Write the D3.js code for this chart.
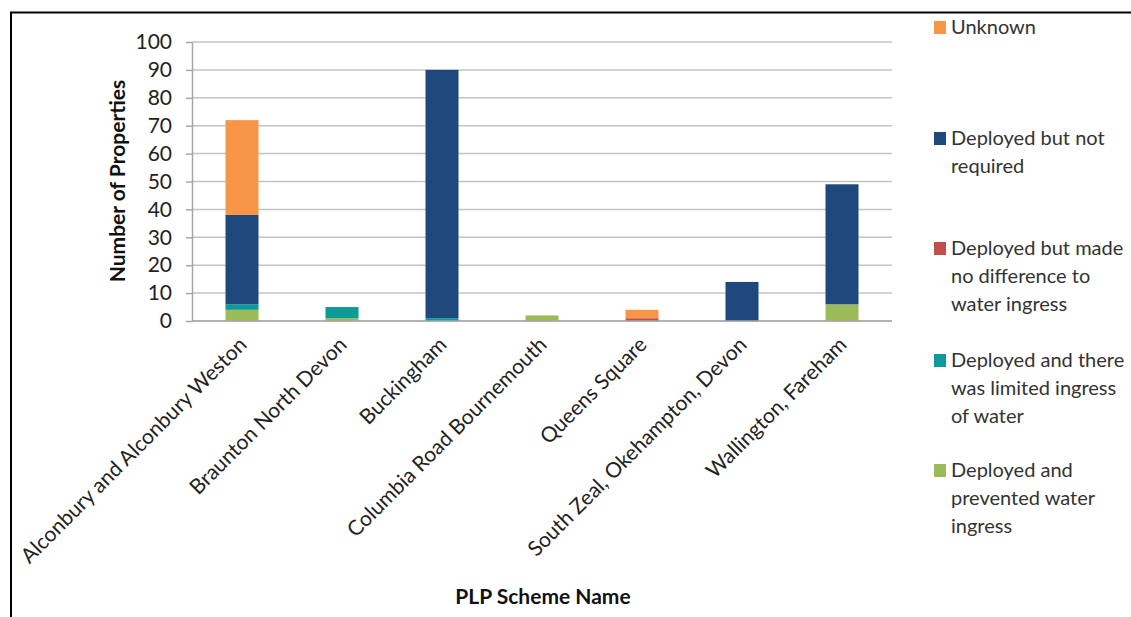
<!DOCTYPE html>
<html>
<head>
<meta charset="utf-8">
<script src="https://cdn.jsdelivr.net/npm/d3@7"></script>
<style>
  body { margin: 0; background: #fff; }
  svg { display: block; font-family: Lato, "Open Sans", sans-serif; }
</style>
</head>
<body>
<svg id="chart" width="1131" height="617"></svg>
<script>
// PLP scheme outcomes: number of properties by scheme and outcome
const schemes = [
  "Alconbury and Alconbury Weston",
  "Braunton North Devon",
  "Buckingham",
  "Columbia Road Bournemouth",
  "Queens Square",
  "South Zeal, Okehampton, Devon",
  "Wallington, Fareham"
];
const preventedIngress   = [4, 1, 0, 2, 0, 0, 6];
const limitedIngress     = [2, 4, 1, 0, 0, 0, 0];
const noDifference       = [0, 0, 0, 0, 1, 0, 0];
const notRequired        = [32, 0, 89, 0, 0, 14, 43];
const unknownOutcome     = [34, 0, 0, 0, 3, 0, 0];
const yTicks = [0, 10, 20, 30, 40, 50, 60, 70, 80, 90, 100];

// stacking order bottom to top
const seriesDefs = [
  { key: "prevented", values: preventedIngress, color: "#9BBB59",
    label: ["Deployed and", "prevented water", "ingress"] },
  { key: "limited", values: limitedIngress, color: "#0F9A9A",
    label: ["Deployed and there", "was limited ingress", "of water"] },
  { key: "nodiff", values: noDifference, color: "#C0504D",
    label: ["Deployed but made", "no difference to", "water ingress"] },
  { key: "notreq", values: notRequired, color: "#1F497D",
    label: ["Deployed but not", "required"] },
  { key: "unknown", values: unknownOutcome, color: "#F79646",
    label: ["Unknown"] }
];

const rows = schemes.map((s, i) => {
  const r = { scheme: s };
  seriesDefs.forEach(d => { r[d.key] = d.values[i]; });
  return r;
});

const svg = d3.select("#chart");
const plot = { left: 192, right: 892, top: 42, bottom: 321 };

// outer frame
svg.append("path")
  .attr("d", "M11,617 V12.5 H1131")
  .attr("fill", "none").attr("stroke", "#000").attr("stroke-width", 2);

const x = d3.scaleBand().domain(schemes)
  .range([plot.left, plot.right]).paddingInner(0.67).paddingOuter(0.335);
const y = d3.scaleLinear().domain([0, 100]).range([plot.bottom, plot.top]);

// gridlines
svg.append("g").selectAll("line").data(yTicks).join("line")
  .attr("x1", plot.left).attr("x2", plot.right)
  .attr("y1", d => y(d)).attr("y2", d => y(d))
  .attr("stroke", "#c4c4c4").attr("stroke-width", 1.5);

// y axis
const yAxis = svg.append("g").attr("transform", `translate(${plot.left},0)`)
  .call(d3.axisLeft(y).tickValues(yTicks).tickSize(6).tickSizeOuter(0).tickPadding(14));
yAxis.select(".domain").attr("stroke", "#a6a6a6").attr("stroke-width", 1.5);
yAxis.selectAll(".tick line").attr("stroke", "#a6a6a6").attr("stroke-width", 1.5);
yAxis.selectAll(".tick text").attr("font-size", 21).attr("fill", "#222")
  .attr("font-family", "Lato");

// stacked bars
const stack = d3.stack().keys(seriesDefs.map(d => d.key));
const layers = stack(rows);
svg.append("g").selectAll("g").data(layers).join("g")
  .attr("fill", (d, i) => seriesDefs[i].color)
  .selectAll("rect").data(d => d).join("rect")
  .attr("x", d => x(d.data.scheme))
  .attr("width", x.bandwidth())
  .attr("y", d => y(d[1]))
  .attr("height", d => y(d[0]) - y(d[1]));

// x axis baseline
svg.append("line")
  .attr("x1", plot.left).attr("x2", plot.right)
  .attr("y1", plot.bottom).attr("y2", plot.bottom)
  .attr("stroke", "#a6a6a6").attr("stroke-width", 1.5);

// rotated category labels
svg.append("g").selectAll("text").data(schemes).join("text")
  .attr("transform", d => `translate(${x(d) + x.bandwidth() / 2 + 6},${plot.bottom + 25}) rotate(-45)`)
  .attr("text-anchor", "end")
  .attr("font-size", 21).attr("fill", "#222")
  .text(d => d);

// axis titles
svg.append("text")
  .attr("transform", `translate(125,181) rotate(-90)`)
  .attr("text-anchor", "middle").attr("font-weight", "bold")
  .attr("font-size", 21).attr("fill", "#111")
  .text("Number of Properties");
svg.append("text")
  .attr("x", 543).attr("y", 604)
  .attr("text-anchor", "middle").attr("font-weight", "bold")
  .attr("font-size", 21).attr("fill", "#111")
  .text("PLP Scheme Name");

// legend, top entry first
const legendTops = [34, 145, 255, 367, 477];
const legend = svg.append("g");
seriesDefs.slice().reverse().forEach((d, i) => {
  const g = legend.append("g").attr("transform", `translate(934,${legendTops[i]})`);
  g.append("rect").attr("x", 0).attr("y", -13).attr("width", 12).attr("height", 13)
    .attr("fill", d.color);
  g.append("text").attr("x", 17).attr("y", 0)
    .attr("font-size", 20).attr("fill", "#333")
    .selectAll("tspan").data(d.label).join("tspan")
    .attr("x", 17).attr("dy", (t, j) => j === 0 ? 0 : 28)
    .text(t => t);
});
</script>
</body>
</html>
